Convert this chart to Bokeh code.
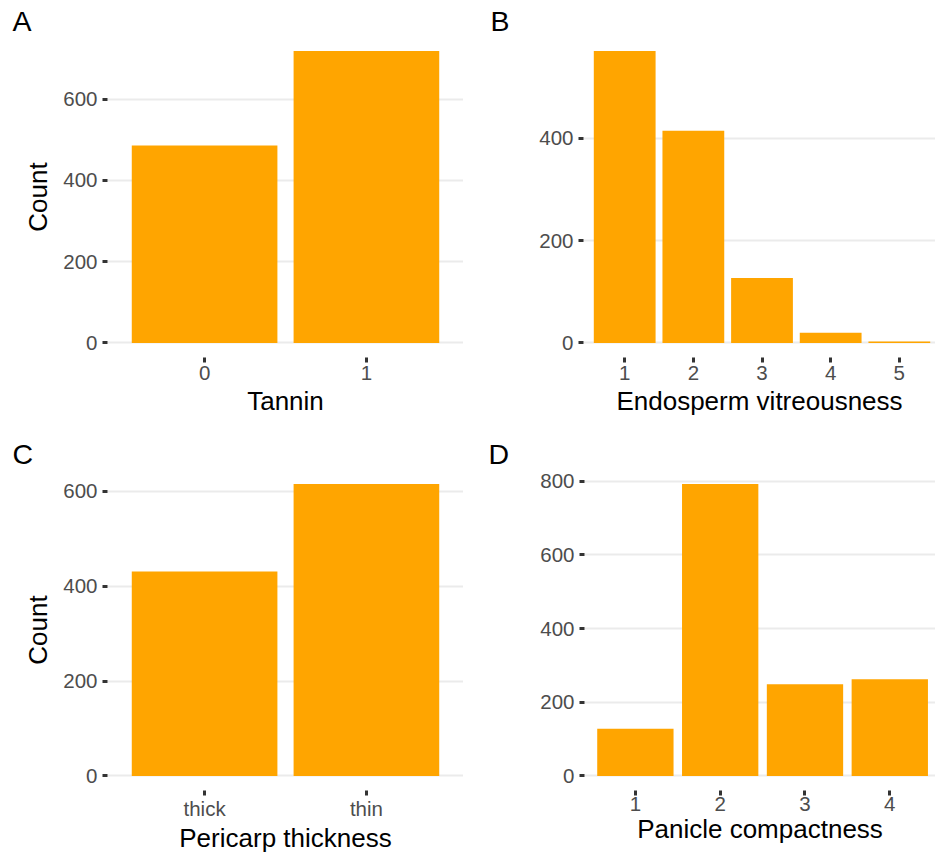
from bokeh.plotting import figure
from bokeh.layouts import column, row
from bokeh.models import Range1d, SingleIntervalTicker, FixedTicker
from bokeh.embed import file_html
from bokeh.resources import INLINE

# ---- data ----
tannin_cats = ["0", "1"]
tannin_counts = [486, 718]

endo_cats = ["1", "2", "3", "4", "5"]
endo_counts = [571, 415, 127, 20, 3]

peri_cats = ["thick", "thin"]
peri_counts = [431, 615]

pan_cats = ["1", "2", "3", "4"]
pan_counts = [128, 792, 249, 262]

FONT = "Liberation Sans"
BAR = "#FFA500"


def panel(tag, cats, counts, xlabel, ylabel, width, height,
          left, right, top, bottom, x_end=None, tag_dx=-95,
          xl_standoff=3, xt_standoff=3):
    n = len(cats)
    xs = list(range(1, n + 1))
    ymax = max(counts)
    xr = Range1d(0.4, x_end if x_end is not None else n + 0.6)
    yr = Range1d(-0.05 * ymax, 1.05 * ymax)
    p = figure(width=width, height=height, x_range=xr, y_range=yr,
               output_backend="svg", toolbar_location=None,
               min_border_left=left, min_border_right=right,
               min_border_top=top, min_border_bottom=bottom)
    p.outline_line_color = None
    p.background_fill_color = "white"
    p.border_fill_color = "white"

    p.vbar(x=xs, top=counts, bottom=0, width=0.9,
           fill_color=BAR, line_color=None)

    # grid
    p.xgrid.grid_line_color = None
    p.ygrid.grid_line_color = "#d6d6d6"
    p.ygrid.grid_line_width = 2
    p.ygrid.grid_line_dash = "1 1"

    # axes
    p.yaxis.ticker = SingleIntervalTicker(interval=200)
    p.xaxis.ticker = FixedTicker(ticks=xs)
    p.xaxis.major_label_overrides = {x: c for x, c in zip(xs, cats)}

    for ax in (p.xaxis[0], p.yaxis[0]):
        ax.axis_line_color = None
        ax.minor_tick_line_color = None
        ax.major_tick_in = 0
        ax.major_tick_out = 5
        ax.major_tick_line_width = 3
        ax.major_tick_line_color = "#333333"
        ax.major_label_text_font = FONT
        ax.major_label_text_font_size = "20.5px"
        ax.major_label_text_color = "#4D4D4D"
        ax.axis_label_text_font = FONT
        ax.axis_label_text_font_size = "26px"
        ax.axis_label_text_font_style = "normal"
        ax.axis_label_text_color = "black"

    p.xaxis.major_label_standoff = xl_standoff
    p.xaxis.axis_label_standoff = xt_standoff
    p.yaxis.major_label_standoff = 5
    p.yaxis.axis_label_standoff = 7
    p.xaxis.axis_label = xlabel
    p.yaxis.axis_label = ylabel

    # panel tag as the figure title, pushed to the left edge
    p.title.text = tag
    p.title.align = "left"
    p.title.offset = tag_dx
    p.title.standoff = 0
    p.title.text_font = FONT
    p.title.text_font_size = "28.5px"
    p.title.text_font_style = "normal"
    p.title.text_color = "black"
    return p


pA = panel("A", tannin_cats, tannin_counts, "Tannin", "Count",
           470, 430, 107, 7, 36, 73, tag_dx=-95)
pB = panel("B", endo_cats, endo_counts, "Endosperm vitreousness", None,
           465, 430, 113, 0, 36, 73, x_end=5.527, tag_dx=-93)
pC = panel("C", peri_cats, peri_counts, "Pericarp thickness", "Count",
           470, 425, 107, 7, 39, 65, tag_dx=-95,
           xl_standoff=1, xt_standoff=0)
pD = panel("D", pan_cats, pan_counts, "Panicle compactness", None,
           465, 425, 114, 0, 39, 65, x_end=4.539, tag_dx=-96,
           xl_standoff=1, xt_standoff=0)

layout = column(row(pA, pB), row(pC, pD))

with open("out.html", "w") as f:
    f.write(file_html(layout, INLINE))
